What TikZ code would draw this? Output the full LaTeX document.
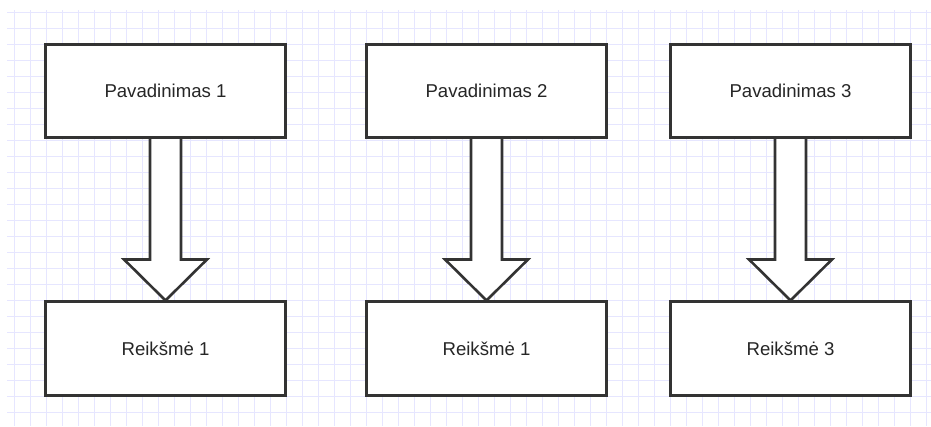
\documentclass[tikz,border=0pt]{standalone}
\usepackage{fontspec}
\setmainfont{Liberation Sans}
\usetikzlibrary{calc,backgrounds}
\definecolor{gridcol}{HTML}{E6E6FF}
\definecolor{edgecol}{HTML}{333333}
\tikzset{
  gridline/.style={draw=gridcol, line width=0.9pt},
  box/.style={draw=edgecol, fill=white, line width=2.6pt, inner sep=0pt,
    minimum width=240pt, minimum height=93.5pt, text=black!85,
    font=\fontsize{18.6}{22}\selectfont},
  fatarrow/.style={draw=edgecol, fill=white, line width=2.6pt, line join=miter}
}
\begin{document}
\begin{tikzpicture}[x=1pt, y=-1pt]
  \useasboundingbox (0,0) rectangle (931,426);

  % header boxes
  \node[box] (a1) at (165.5,91) {Pavadinimas 1};
  \node[box] (a2) at (486.5,91) {Pavadinimas 2};
  \node[box] (a3) at (790.5,91) {Pavadinimas 3};
  % value boxes
  \node[box] (b1) at (165.5,348.5) {Reikšmė 1};
  \node[box] (b2) at (486.5,348.5) {Reikšmė 1};
  \node[box] (b3) at (790.5,348.5) {Reikšmė 3};

  \begin{scope}[on background layer]
    \fill[white] (0,0) rectangle (931,426);
    % paper grid
    \foreach \x in {14,30,...,926} \draw[gridline] (\x,10) -- (\x,426);
    \foreach \y in {12,28,...,412} \draw[gridline] (7,\y) -- (931,\y);
    % block arrows from each header to its value
    \foreach \i in {1,2,3} {
      \draw[fatarrow]
        ($(a\i.south)+(-15.5,-1)$) -- ($(b\i.north)+(-15.5,-41)$)
        -- ($(b\i.north)+(-41.5,-41)$) -- (b\i.north)
        -- ($(b\i.north)+(41.5,-41)$) -- ($(b\i.north)+(15.5,-41)$)
        -- ($(a\i.south)+(15.5,-1)$);
    }
  \end{scope}
\end{tikzpicture}
\end{document}
